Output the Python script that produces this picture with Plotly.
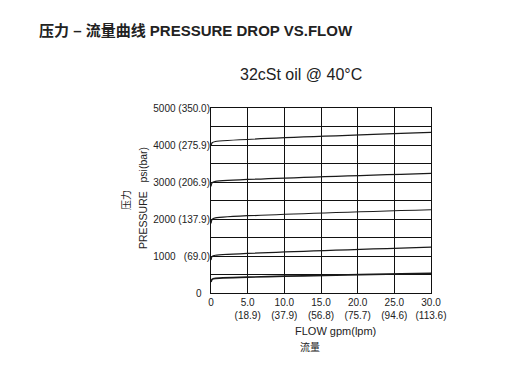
import plotly.graph_objects as go

# ---- data ----
flow_gpm = [0, 0.15, 0.6, 30]
curve_1 = [3985, 4060, 4095, 4340]
curve_2 = [2880, 2980, 3015, 3235]
curve_3 = [1880, 1990, 2030, 2250]
curve_4 = [890, 990, 1020, 1240]
curve_5 = [300, 370, 395, 530]
curves = [curve_1, curve_2, curve_3, curve_4, curve_5]
curve_widths = [1.2, 1.2, 1.2, 1.2, 1.6]

y_tickvals = [0, 1000, 2000, 3000, 4000, 5000]
y_ticktext = ["0\u00a0\u00a0\u00a0",
              "1000\u00a0\u00a0\u00a0(69.0)",
              "2000\u00a0(137.9)",
              "3000\u00a0(206.9)",
              "4000\u00a0(275.9)",
              "5000\u00a0(350.0)"]
x_tickvals = [0, 5, 10, 15, 20, 25, 30]
x_ticktext = ["0<br> ", "5.0<br>(18.9)", "10.0<br>(37.9)", "15.0<br>(56.8)",
              "20.0<br>(75.7)", "25.0<br>(94.6)", "30.0<br>(113.6)"]

FONT = "Liberation Sans, Arial, Noto Sans CJK SC, sans-serif"

fig = go.Figure()
for c, w in zip(curves, curve_widths):
    fig.add_trace(go.Scatter(x=flow_gpm, y=c, mode="lines",
                             line=dict(color="#1a1a1a", width=w, shape="spline", smoothing=0.6),
                             showlegend=False, hoverinfo="skip"))

L, R, T, B = 211, 431, 108, 293
W, H = 519, 376

def px(x):
    return (x - L) / (R - L)

def py(y):
    return (B - y) / (B - T)

fig.update_layout(
    width=W, height=H,
    margin=dict(l=L, r=W - R, t=T, b=H - B),
    paper_bgcolor="white", plot_bgcolor="white",
    font=dict(family=FONT, color="#222", size=10),
    xaxis=dict(range=[0, 30], tickvals=x_tickvals, ticktext=x_ticktext,
               showgrid=True, gridcolor="#111", gridwidth=1,
               showline=True, linecolor="#111", linewidth=1, mirror=True,
               zeroline=False, ticks="", tickfont=dict(size=10, color="#222")),
    yaxis=dict(range=[0, 5000], dtick=500,
               showgrid=True, gridcolor="#111", gridwidth=1,
               showline=True, linecolor="#111", linewidth=1, mirror=True,
               zeroline=False, ticks="", showticklabels=False),
    yaxis2=dict(range=[0, 5000], overlaying="y", side="left",
                tickvals=y_tickvals, ticktext=y_ticktext, showgrid=False,
                zeroline=False, ticks="", tickfont=dict(size=10, color="#222")),
    annotations=[
        dict(text="<b>压力 – 流量曲线 PRESSURE DROP VS.FLOW</b>", xref="paper", yref="paper",
             x=px(37), y=py(30), xanchor="left", yanchor="middle", showarrow=False,
             font=dict(size=15, color="#222", family=FONT)),
        dict(text="32cSt oil @ 40°C", xref="paper", yref="paper",
             x=px(301), y=py(74), xanchor="center", yanchor="middle", showarrow=False,
             font=dict(size=16, color="#222", family=FONT)),
        dict(text="PRESSURE\u00a0\u00a0\u00a0psi(bar)", xref="paper", yref="paper",
             x=px(143), y=py(198), xanchor="center", yanchor="middle", showarrow=False,
             textangle=-90, font=dict(size=10.5, color="#222", family=FONT)),
        dict(text="压力", xref="paper", yref="paper",
             x=px(126), y=py(200), xanchor="center", yanchor="middle", showarrow=False,
             textangle=-90, font=dict(size=10, color="#222", family=FONT)),
        dict(text="FLOW gpm(lpm)", xref="paper", yref="paper",
             x=px(335), y=py(331), xanchor="center", yanchor="middle", showarrow=False,
             font=dict(size=11, color="#222", family=FONT)),
        dict(text="流量", xref="paper", yref="paper",
             x=px(310), y=py(347), xanchor="center", yanchor="middle", showarrow=False,
             font=dict(size=10, color="#222", family=FONT)),
    ],
)
# dummy trace to activate yaxis2 tick labels
fig.add_trace(go.Scatter(x=[None], y=[None], yaxis="y2", showlegend=False, hoverinfo="skip"))

fig.write_html("out.html")
